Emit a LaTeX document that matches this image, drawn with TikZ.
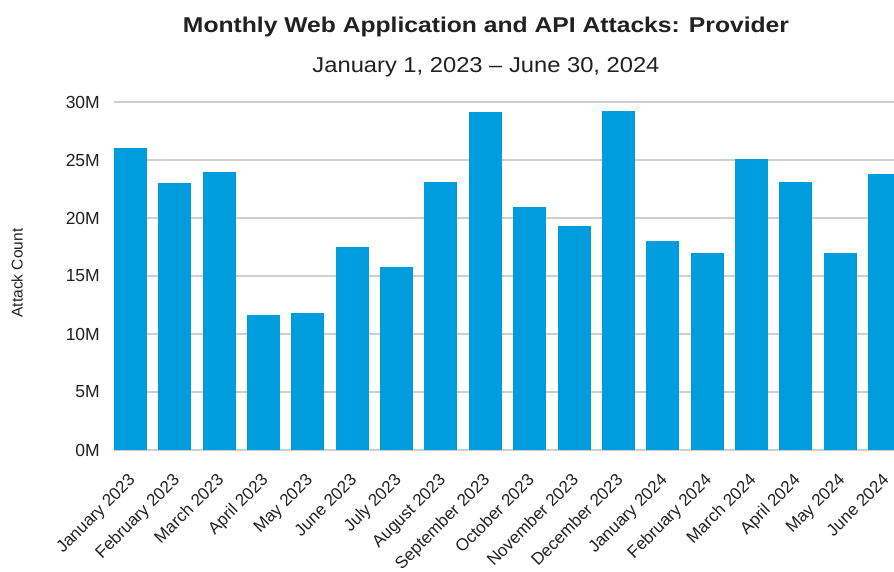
\documentclass[tikz,border=0pt]{standalone}
\usepackage{fontspec}
\setmainfont{Liberation Sans}
\usepackage{graphicx}
\definecolor{barblue}{RGB}{0,157,222}
\definecolor{gridgray}{RGB}{206,206,206}
\definecolor{inkdark}{RGB}{33,33,33}
\definecolor{inktick}{RGB}{34,34,34}
\tikzset{
  gridline/.style={draw=gridgray, line width=1.2pt},
  bar/.style={fill=barblue},
  ticklabel/.style={anchor=east, inner sep=0pt, text=inktick, font=\fontsize{17.5}{19}\selectfont},
  monthlabel/.style={anchor=base east, inner sep=0pt, rotate=45, text=inktick, font=\fontsize{17}{19}\selectfont},
  axistitle/.style={inner sep=0pt, rotate=90, text=inktick, font=\fontsize{15.5}{17}\selectfont},
}
\begin{document}
\begin{tikzpicture}[x=1pt,y=-1pt]
\useasboundingbox (0,0) rectangle (894,571);
\clip (0,0) rectangle (894,571);
\fill[white] (0,0) rectangle (894,571);

% titles
\node[anchor=base, inner sep=0pt, text=inkdark] (title) at (486,32)
  {\resizebox{606pt}{15.5pt}{\bfseries Monthly Web Application and API Attacks: Provider}};
\node[anchor=base, inner sep=0pt, text=inkdark] (subtitle) at (486,72)
  {\resizebox{347pt}{15pt}{January 1, 2023 – June 30, 2024}};

% horizontal gridlines and value labels
\foreach \v in {0,5,...,30}{
  \draw[gridline] (114,{450-11.6*\v}) -- (894,{450-11.6*\v});
  \node[ticklabel] (tick\v) at (100,{450-11.6*\v}) {\v M};
}

% monthly bars with their labels
\foreach \val/\lab [count=\i from 0] in {
  26.03/January 2023, 23.02/February 2023, 23.97/March 2023,
  11.64/April 2023, 11.81/May 2023, 17.5/June 2023, 15.78/July 2023,
  23.1/August 2023, 29.14/September 2023, 20.95/October 2023,
  19.31/November 2023, 29.22/December 2023, 18.02/January 2024,
  16.98/February 2024, 25.09/March 2024, 23.1/April 2024,
  16.98/May 2024, 23.79/June 2024}{
  \fill[bar] ({114+44.35*\i},450) rectangle ++(33,{-11.6*\val});
  \node[monthlabel] (month\i) at ({114+44.35*\i+22},481) {\lab};
}

% vertical axis title
\node[axistitle] (ytitle) at (17,273) {Attack Count};
\end{tikzpicture}
\end{document}
